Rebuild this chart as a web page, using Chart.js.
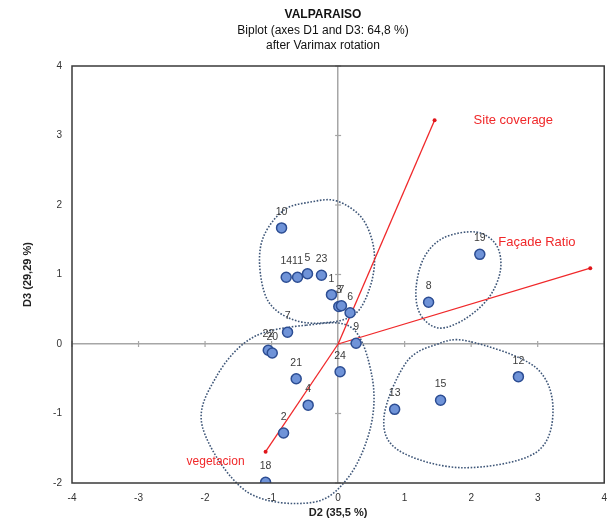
<!DOCTYPE html>
<html>
<head>
<meta charset="utf-8">
<script src="https://cdn.jsdelivr.net/npm/chart.js@4/dist/chart.umd.min.js"></script>
<style>
  html, body { margin: 0; padding: 0; background: #fff; }
  #wrap { width: 616px; height: 524px; }
</style>
</head>
<body>
<div id="wrap"><canvas id="biplot" width="616" height="524"></canvas></div>
<script>
// observations (factor scores on D2 / D3)
const obsLabels = ["10", "14", "11", "5", "23", "1", "3", "7", "6", "9", "7", "22", "20", "24", "21", "4", "2", "18", "13", "15", "12", "8", "19"];
const obsD2 = [-0.85, -0.78, -0.61, -0.46, -0.25, -0.10, 0.01, 0.05, 0.18, 0.27, -0.76, -1.05, -0.99, 0.03, -0.63, -0.45, -0.82, -1.09, 0.85, 1.54, 2.71, 1.36, 2.13];
const obsD3 = [1.67, 0.96, 0.96, 1.01, 0.99, 0.71, 0.54, 0.55, 0.45, 0.01, 0.17, -0.09, -0.13, -0.40, -0.50, -0.88, -1.28, -1.99, -0.94, -0.81, -0.47, 0.60, 1.29];

// variables (loadings)
const varNames = ["Site coverage", "Façade Ratio", "vegetacion"];
const varD2 = [1.45, 3.79, -1.09];
const varD3 = [3.22, 1.09, -1.55];

// group outlines
const groupTopX = [-0.03, 0.36, 0.54, 0.49, 0.24, -0.28, -0.73, -1.06, -1.18, -1.11, -0.81, -0.43];
const groupTopY = [2.06, 1.81, 1.35, 0.85, 0.42, 0.30, 0.37, 0.63, 1.14, 1.57, 1.93, 2.04];
const groupLowX = [-0.48, 0.21, 0.51, 0.49, 0.16, -0.39, -1.38, -2.04, -1.83, -1.29];
const groupLowY = [0.27, 0.23, -0.47, -1.19, -1.91, -2.28, -2.12, -1.19, -0.47, 0.09];
const groupMidX = [2.08, 2.38, 2.44, 2.26, 1.89, 1.51, 1.24, 1.17, 1.29, 1.59];
const groupMidY = [1.61, 1.42, 1.06, 0.66, 0.35, 0.23, 0.42, 0.78, 1.24, 1.53];
const groupRightX = [1.96, 2.96, 3.23, 2.96, 1.86, 0.91, 0.69, 1.02, 1.47];
const groupRightY = [0.04, -0.33, -0.95, -1.57, -1.78, -1.53, -1.05, -0.27, -0.01];

const xTicks = [-4, -3, -2, -1, 0, 1, 2, 3, 4];
const yTicks = [-2, -1, 0, 1, 2, 3, 4];

const FONT = "'Liberation Sans', Arial, sans-serif";
const groups = [[groupTopX, groupTopY], [groupLowX, groupLowY], [groupMidX, groupMidY], [groupRightX, groupRightY]];

let vectorSets = varNames.map((n, i) => ({
  type: "line",
  label: n,
  data: [{ x: 0, y: 0 }, { x: varD2[i], y: varD3[i] }],
  showLine: true,
  fill: false,
  borderColor: "#f0282a",
  borderWidth: 1.3,
  pointRadius: [0, 2],
  pointBackgroundColor: "#e0161b",
  pointBorderWidth: 0,
  order: 1
}));

let obsSet = {
  type: "scatter",
  label: "obs",
  data: obsD2.map((x, i) => ({ x: x, y: obsD3[i] })),
  pointRadius: 5,
  pointBackgroundColor: "#6f93d8",
  pointBorderColor: "#2c4d93",
  pointBorderWidth: 1.5,
  order: 0
};

// smooth closed curve through the outline points (catmull-rom)
function closedCurve(ctx, pts) {
  let n = pts.length;
  ctx.beginPath();
  ctx.moveTo(pts[0][0], pts[0][1]);
  for (let i = 0; i < n; i++) {
    let p0 = pts[(i - 1 + n) % n], p1 = pts[i], p2 = pts[(i + 1) % n], p3 = pts[(i + 2) % n];
    ctx.bezierCurveTo(
      p1[0] + (p2[0] - p0[0]) / 6, p1[1] + (p2[1] - p0[1]) / 6,
      p2[0] - (p3[0] - p1[0]) / 6, p2[1] - (p3[1] - p1[1]) / 6,
      p2[0], p2[1]);
  }
  ctx.closePath();
  ctx.stroke();
}

// text on the chart: titles, point numbers, variable names, plot frame
let decorations = {
  id: "decorations",
  beforeDatasetsDraw(chart) {
    let ctx = chart.ctx, xs = chart.scales.x, ys = chart.scales.y;
    let x0 = xs.getPixelForValue(0), y0 = ys.getPixelForValue(0);
    ctx.save();
    ctx.strokeStyle = "#a6a6a6";
    ctx.lineWidth = 1.2;
    xTicks.forEach(v => {
      let px = xs.getPixelForValue(v);
      ctx.beginPath(); ctx.moveTo(px, y0 - 3); ctx.lineTo(px, y0 + 3); ctx.stroke();
    });
    yTicks.forEach(v => {
      let py = ys.getPixelForValue(v);
      ctx.beginPath(); ctx.moveTo(x0 - 3, py); ctx.lineTo(x0 + 3, py); ctx.stroke();
    });

    // dotted group outlines
    ctx.strokeStyle = "#3e5678";
    ctx.lineWidth = 1.6;
    ctx.setLineDash([1.6, 1.6]);
    groups.forEach(g => {
      let pts = g[0].map((x, i) => [xs.getPixelForValue(x), ys.getPixelForValue(g[1][i])]);
      closedCurve(ctx, pts);
    });
    ctx.restore();
  },
  afterDatasetsDraw(chart) {
    let ctx = chart.ctx, a = chart.chartArea;
    ctx.save();

    // frame
    ctx.strokeStyle = "#3a3a3a";
    ctx.lineWidth = 1.5;
    ctx.strokeRect(a.left, a.top, a.right - a.left, a.bottom - a.top);

    // observation numbers
    let meta = chart.getDatasetMeta(chart.data.datasets.indexOf(obsSet));
    ctx.fillStyle = "#3b3b3b";
    ctx.font = "10.5px " + FONT;
    ctx.textAlign = "center";
    ctx.textBaseline = "middle";
    meta.data.forEach((p, i) => {
      ctx.fillText(obsLabels[i], p.x, p.y - 16);
    });

    // variable names
    ctx.fillStyle = "#f0282a";
    let xs = chart.scales.x, ys = chart.scales.y;
    let ends = varNames.map((n, i) => [xs.getPixelForValue(varD2[i]), ys.getPixelForValue(varD3[i])]);
    ctx.font = "13px " + FONT;
    ctx.textAlign = "left";
    ctx.fillText(varNames[0], ends[0][0] + 39, ends[0][1]);
    ctx.fillText(varNames[1], ends[1][0] - 92, ends[1][1] - 26);
    ctx.font = "12px " + FONT;
    ctx.textAlign = "right";
    ctx.fillText(varNames[2], ends[2][0] - 21, ends[2][1] + 10);

    // titles
    ctx.fillStyle = "#111";
    ctx.textAlign = "center";
    ctx.font = "bold 12px " + FONT;
    ctx.fillText("VALPARAISO", 323, 15);
    ctx.font = "12px " + FONT;
    ctx.fillText("Biplot (axes D1 and D3: 64,8 %)", 323, 31);
    ctx.fillText("after Varimax rotation", 323, 46);
    ctx.restore();
  }
};

new Chart("biplot", {
  type: "scatter",
  data: {
    datasets: [obsSet, ...vectorSets]
  },
  options: {
    responsive: false,
    animation: false,
    layout: { padding: { top: 66, right: 8, left: 0, bottom: 0 } },
    plugins: {
      legend: { display: false },
      tooltip: { enabled: false }
    },
    scales: {
      x: {
        type: "linear",
        min: -4, max: 4,
        afterFit: s => { s.height = 41; },
        afterBuildTicks: s => { s.ticks = xTicks.map(v => ({ value: v })); },
        ticks: { color: "#333", font: { family: FONT, size: 10 }, padding: 9 },
        grid: {
          drawTicks: false,
          color: c => (c.tick && c.tick.value === 0) ? "#a6a6a6" : "rgba(0,0,0,0)",
          lineWidth: 1.5
        },
        border: { display: false },
        title: {
          display: true, text: "D2 (35,5 %)", color: "#222",
          font: { family: FONT, size: 11, weight: "bold" }, padding: { top: 0 }
        }
      },
      y: {
        type: "linear",
        min: -2, max: 4,
        afterFit: s => { s.width = 72; },
        afterBuildTicks: s => { s.ticks = yTicks.map(v => ({ value: v })); },
        ticks: { color: "#333", font: { family: FONT, size: 10 }, padding: 10 },
        grid: {
          drawTicks: false,
          color: c => (c.tick && c.tick.value === 0) ? "#a6a6a6" : "rgba(0,0,0,0)",
          lineWidth: 1.5
        },
        border: { display: false },
        title: {
          display: true, text: "D3 (29,29 %)", color: "#222",
          font: { family: FONT, size: 11, weight: "bold" }, padding: { top: 21, bottom: 4 }
        }
      }
    }
  },
  plugins: [decorations]
});
</script>
</body>
</html>
